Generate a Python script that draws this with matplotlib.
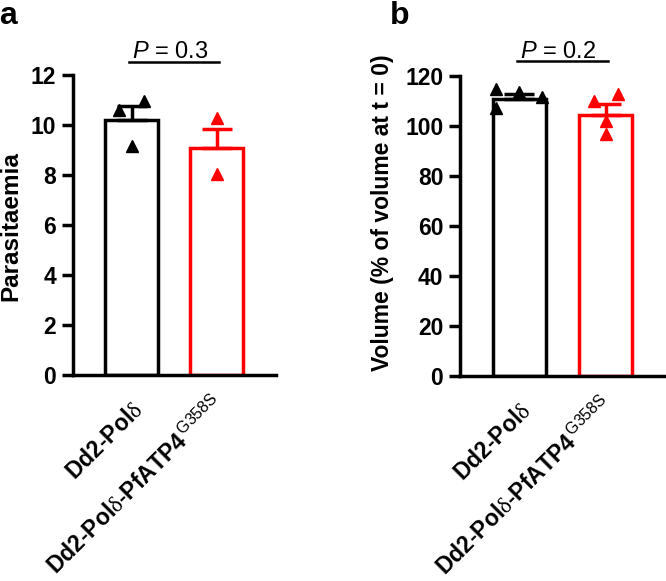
import matplotlib
matplotlib.use("Agg")
import matplotlib.pyplot as plt
import numpy as np

plt.rcParams['font.family'] = ['Liberation Sans', 'DejaVu Sans']
plt.rcParams['mathtext.fontset'] = 'custom'
plt.rcParams['mathtext.rm'] = 'Liberation Sans'
plt.rcParams['mathtext.it'] = 'Liberation Sans:italic'
plt.rcParams['mathtext.bf'] = 'Liberation Sans:bold'
plt.rcParams['mathtext.sf'] = 'Liberation Serif'

# ---- data ----
group_labels = [r'Dd2-Pol$\mathsf{\delta}$',
                r'Dd2-Pol$\mathsf{\delta}$-PfATP4$^{\,\mathrm{G358S}}$']
bar_colors = ['black', 'red']

parasitaemia_mean = [10.2, 9.1]
parasitaemia_sem = [0.55, 0.75]
parasitaemia_wt = [10.6, 10.96, 9.16]
parasitaemia_wt_jitter = [-0.15, 0.15, 0.0]
parasitaemia_mut = [10.28, 8.04]
parasitaemia_mut_jitter = [0.0, 0.0]
parasitaemia_ticks = [0, 2, 4, 6, 8, 10, 12]
parasitaemia_p = 'P = 0.3'

volume_mean = [110.7, 104.4]
volume_sem = [2.3, 4.4]
volume_wt = [114.8, 107.4, 113.6, 111.8]
volume_wt_jitter = [-0.27, -0.27, 0.0, 0.26]
volume_mut = [110.0, 112.8, 102.0, 96.8]
volume_mut_jitter = [-0.14, 0.14, 0.0, 0.0]
volume_ticks = [0, 20, 40, 60, 80, 100, 120]
volume_p = 'P = 0.2'

W, H = 666, 581
fig = plt.figure(figsize=(W / 100, H / 100), dpi=100)


def px_axes(left, right, bottom, top):
    return fig.add_axes([left / W, 1 - bottom / H, (right - left) / W, (bottom - top) / H])


label_offsets = [(0, -17), (-3.6, -12)]


def draw_panel(ax, means, sems, pts, jit, ticks, ylabel, ylabel_size, ptext, plinehy, label_xy):
    lw = 2.5
    x = np.arange(len(means))
    for i in range(len(means)):
        ax.bar(x[i], means[i], width=0.62, color='white', edgecolor=bar_colors[i],
               linewidth=lw, zorder=2)
        ax.errorbar(x[i], means[i], yerr=[[0], [sems[i]]], color=bar_colors[i],
                    elinewidth=lw, capsize=10.5, capthick=lw, zorder=3, fmt='none')
        ax.plot(x[i] + np.array(jit[i]), pts[i], linestyle='none', marker='^',
                markersize=8.5, color=bar_colors[i], zorder=4, clip_on=False)
        ax.annotate(group_labels[i], xy=(x[i], 0), xycoords=('data', 'axes fraction'),
                    xytext=label_offsets[i], textcoords='offset points',
                    rotation=45, ha='right', va='top', rotation_mode='anchor',
                    fontsize=16.5, fontweight='bold', annotation_clip=False)
    ax.set_xlim(-0.69, 1.70)
    ax.set_ylim(ticks[0], ticks[-1])
    ax.set_yticks(ticks)
    ax.set_yticklabels([str(t) for t in ticks], fontsize=16.5, fontweight='bold')
    ax.set_xticks(x)
    ax.set_xticklabels([])
    for s in ['top', 'right']:
        ax.spines[s].set_visible(False)
    for s in ['left', 'bottom']:
        ax.spines[s].set_linewidth(lw)
        ax.spines[s].set_capstyle('projecting')
    ax.tick_params(axis='y', width=lw, length=8, pad=4)
    ax.tick_params(axis='x', length=0)
    ax.text(label_xy[0], label_xy[1], ylabel, rotation=90, ha='center', va='center',
            fontsize=ylabel_size, fontweight='bold', transform=ax.transAxes)
    yline, ytext = plinehy
    ax.plot([-0.03, 1.03], [yline, yline], color='black', lw=1.8, clip_on=False)
    ax.text(0.45, ytext, r'$\it{P}$' + ptext[1:], ha='center', va='baseline',
            fontsize=17)


ax1 = px_axes(73, 276, 375, 75)
draw_panel(ax1, parasitaemia_mean, parasitaemia_sem,
           [parasitaemia_wt, parasitaemia_mut],
           [parasitaemia_wt_jitter, parasitaemia_mut_jitter],
           parasitaemia_ticks, 'Parasitaemia', 17.5, parasitaemia_p, (12.53, 12.68), (-0.305, 0.497))

ax2 = px_axes(460, 666, 376, 76)
draw_panel(ax2, volume_mean, volume_sem,
           [volume_wt, volume_mut],
           [volume_wt_jitter, volume_mut_jitter],
           volume_ticks, 'Volume (% of volume at t = 0)', 16.5, volume_p, (126.0, 127.4), (-0.374, 0.545))

fig.text(-1 / W, 1 - 24 / H, 'a', fontsize=23, fontweight='bold', ha='left', va='baseline')
fig.text(390 / W, 1 - 24 / H, 'b', fontsize=23, fontweight='bold', ha='left', va='baseline')

fig.savefig('out.png', dpi=100)
